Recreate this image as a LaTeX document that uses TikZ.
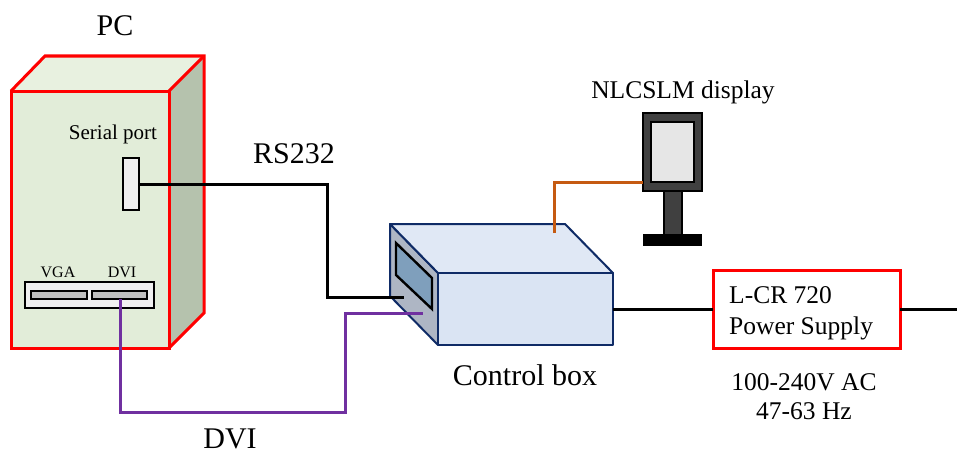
\documentclass[tikz,border=0pt]{standalone}
\usepackage{fontspec}
\setmainfont{Liberation Serif}
\definecolor{pcfront}{HTML}{E2EDD9}
\definecolor{pctop}{HTML}{E8F1E0}
\definecolor{pcside}{HTML}{B5C2AD}
\definecolor{portfill}{HTML}{F0F0F0}
\definecolor{slotfill}{HTML}{BFBFBF}
\definecolor{boxtop}{HTML}{E0E8F5}
\definecolor{boxfront}{HTML}{DAE4F3}
\definecolor{boxside}{HTML}{AEB6C4}
\definecolor{boxline}{HTML}{0F2B66}
\definecolor{boxwin}{HTML}{7F9FBC}
\definecolor{mondark}{HTML}{404040}
\definecolor{monscreen}{HTML}{E6E6E6}
\definecolor{cableorange}{HTML}{C55A11}
\definecolor{cablepurple}{HTML}{7030A0}
\tikzset{
  x=1pt,y=-1pt,
  caselook/.style={draw=red,line width=3pt,line join=miter},
  blockat/.style n args={4}{rectangle,inner sep=0pt,outer sep=0pt,anchor=north west,minimum width=#3-#1,minimum height=#4-#2},
  portlook/.style={draw=black,line width=1.8pt,fill=portfill},
  slotlook/.style={draw=black,line width=1.8pt,fill=slotfill},
  boxlook/.style={draw=boxline,line width=2pt,line join=round},
  monlook/.style={draw=black,line width=1.5pt,fill=mondark},
  cableblack/.style={draw=black,line width=3pt},
  cablepurp/.style={draw=cablepurple,line width=3pt},
  cableor/.style={draw=cableorange,line width=3pt},
  labelhuge/.style={font=\fontsize{30}{34}\selectfont,inner sep=0pt},
  labelmid/.style={font=\fontsize{25.5}{30}\selectfont,inner sep=0pt},
  labelsmall/.style={font=\fontsize{21}{24}\selectfont,inner sep=0pt},
  labeltiny/.style={font=\fontsize{16}{18}\selectfont,inner sep=0pt},
}
\begin{document}
\begin{tikzpicture}
\useasboundingbox (0,0) rectangle (957,452);
% PC
\fill[pctop] (11,91) -- (45,56) -- (204,56) -- (169,91) -- cycle;
\fill[pcside] (169,91) -- (204,56) -- (204,313) -- (169,348) -- cycle;
\node[caselook,fill=pcfront,blockat={11}{91}{169}{348}] (pc) at (11,91) {};
\draw[caselook] (11,91) -- (45,56) -- (204,56) -- (204,313) -- (169,348);
\draw[caselook] (169,91) -- (204,56);
\node[portlook,blockat={123}{158}{139}{210}] (serial) at (123,158) {};
\node[portlook,blockat={25}{282}{154}{308}] (panel) at (25,282) {};
\node[slotlook,blockat={31}{291}{87}{299}] (vga) at (31,291) {};
\node[slotlook,blockat={92}{291}{147}{299}] (dvi) at (92,291) {};
% Control box
\fill[boxside,boxlook] (390,224) -- (438,273) -- (438,345) -- (390,296) -- cycle;
\fill[boxtop,boxlook] (390,224) -- (565,224) -- (613,273) -- (438,273) -- cycle;
\node[boxlook,fill=boxfront,blockat={438}{273}{613}{345}] (box) at (438,273) {};
\draw[draw=black,line width=2.4pt,fill=boxwin] (396,243) -- (432,278) -- (432,309) -- (396,275) -- cycle;
% Monitor
\node[monlook,blockat={664}{190}{682}{235}] (stem) at (664,190) {};
\node[monlook,blockat={643}{113}{702}{191}] (mon) at (643,113) {};
\node[draw=black,line width=1.5pt,fill=monscreen,blockat={651}{122}{694}{182}] (screen) at (651,122) {};
\node[fill=black,blockat={643}{234}{702}{246}] (base) at (643,234) {};
% Power supply
\node[draw=red,line width=3pt,fill=white,blockat={713}{270}{900}{348}] (psu) at (713,270) {};
% Free cable ends
\coordinate (rsend) at (404,297);
\coordinate (dviend) at (423,313);
\coordinate (monend) at (554,233);
\coordinate (mains) at (957,309);
% Cables
\draw[cableblack] (serial.east |- 0,184) -- (327,184) -- (327,297) -- (rsend);
\draw[cablepurp] (dvi.south -| 120,0) -- (120,412) -- (345,412) -- (345,313) -- (dviend);
\draw[cableor] (monend) -- (554,182) -- (mon.west |- 0,182);
\draw[cableblack] (box.east |- 0,309) -- (psu.west |- 0,309);
\draw[cableblack] (psu.east |- 0,309) -- (mains);
% Labels
\node[labelhuge] (tpc) at (115,26) {PC};
\node[labelsmall] (tserial) at (113,134) {Serial port};
\node[labeltiny] (tvga) at (58,272) {VGA};
\node[labeltiny] (tdvi) at (122,272) {DVI};
\node[labelhuge] (trs) at (294,154) {RS232};
\node[labelmid] (tnl) at (683,92) {NLCSLM display};
\node[labelhuge] (tcb) at (525,375) {Control box};
\node[labelhuge] (tdvib) at (230,439) {DVI};
\node[labelmid,align=left,anchor=west,font=\fontsize{25.5}{31}\selectfont] (tpsu) at (729,313) {L-CR 720\\Power Supply};
\node[labelmid,align=center,font=\fontsize{25.5}{29}\selectfont] (tac) at (804,397) {100-240V AC\\47-63 Hz};
\end{tikzpicture}
\end{document}
